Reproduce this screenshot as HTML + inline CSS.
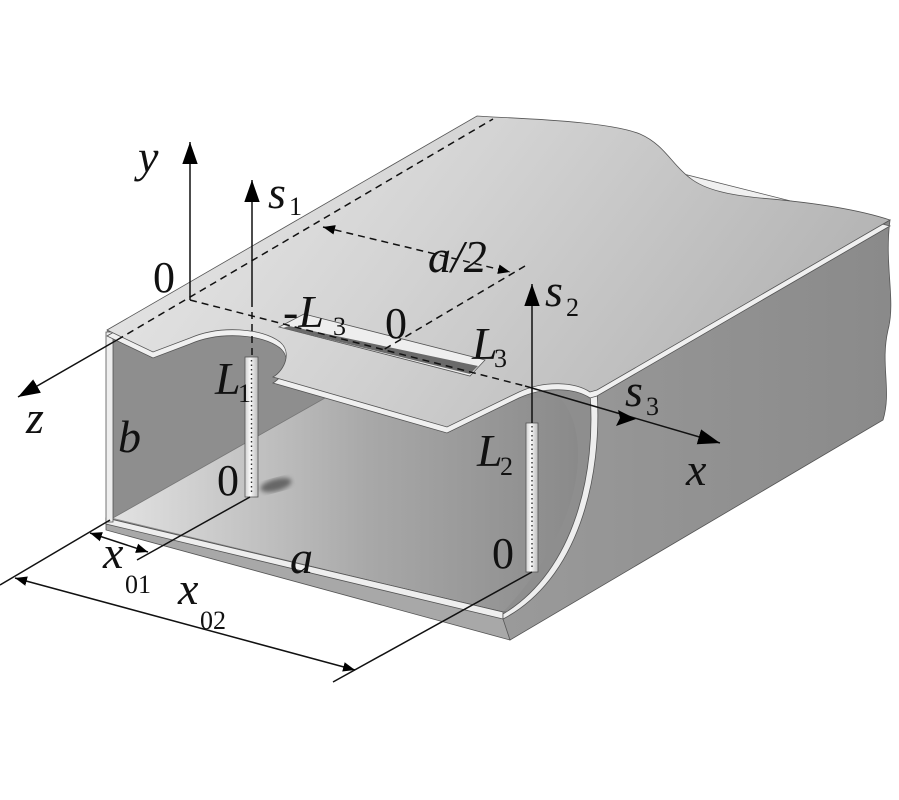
<!DOCTYPE html>
<html><head><meta charset="utf-8"><style>
html,body{margin:0;padding:0;background:#fff;width:899px;height:800px;overflow:hidden}
svg{display:block}
text{font-family:"Liberation Serif",serif;fill:#111}
.i{font-style:italic}
</style></head><body>
<svg width="899" height="800" viewBox="0 0 899 800" xmlns="http://www.w3.org/2000/svg">
<defs>
<linearGradient id="top" x1="0" y1="0" x2="1" y2="0.3">
<stop offset="0" stop-color="#ebebeb"/><stop offset="0.5" stop-color="#d2d2d2"/><stop offset="1" stop-color="#b5b5b5"/></linearGradient>
<linearGradient id="right" x1="0" y1="0" x2="1" y2="0">
<stop offset="0" stop-color="#9a9a9a"/><stop offset="1" stop-color="#8a8a8a"/></linearGradient>
<linearGradient id="floor" x1="0" y1="0" x2="1" y2="0">
<stop offset="0" stop-color="#e2e2e2"/><stop offset="0.55" stop-color="#a8a8a8"/><stop offset="1" stop-color="#8a8a8a"/></linearGradient>
<linearGradient id="probe" x1="0" y1="0" x2="1" y2="0">
<stop offset="0" stop-color="#cfcfcf"/><stop offset="0.4" stop-color="#fafafa"/><stop offset="1" stop-color="#bdbdbd"/></linearGradient>
<marker id="ah" viewBox="0 0 10 10" refX="10" refY="5" markerWidth="12" markerHeight="12" markerUnits="userSpaceOnUse" orient="auto-start-reverse">
<path d="M0,1 L10,5 L0,9 Z" fill="#000"/></marker>
<marker id="ahb" viewBox="0 0 10 10" refX="10" refY="5" markerWidth="22" markerHeight="22" markerUnits="userSpaceOnUse" orient="auto-start-reverse">
<path d="M0,1.5 L10,5 L0,8.5 Z" fill="#000"/></marker>
<filter id="blur"><feGaussianBlur stdDeviation="2.5"/></filter>
</defs>

<path d="M107,330 L320,330 L600,385 L590,395 C596,470 576,570 503,614 L106,522 Z" fill="#8e8e8e"/>
<path d="M113,518 L325,398 L560,398 C590,430 590,520 503,612 Z" fill="url(#floor)"/>
<path d="M113,345 L113,518 L325,398" fill="none" stroke="#777" stroke-width="0.8"/>
<ellipse cx="276" cy="485" rx="16" ry="6" fill="#666" filter="url(#blur)" transform="rotate(-15 276 485)"/>

<path d="M106,518 L503,612 L510,612 L510,640 L106,530 Z" fill="#a8a8a8" stroke="#555" stroke-width="0.8"/>
<path d="M106,518 L503,612 L503,619 L106,524 Z" fill="#eeeeee" stroke="#555" stroke-width="0.8"/>
<rect x="106" y="332" width="7" height="190" fill="#eeeeee" stroke="#555" stroke-width="0.8"/>

<path d="M597,390 L890,220 C884,265 896,300 888,330 C880,365 892,390 883,420 L510,640 L503,619 C575,580 602,480 597,390 Z" fill="url(#right)" stroke="#555" stroke-width="0.8"/>
<path d="M590,393 C596,470 576,570 503,614 L503,619 C578,580 603,478 597,390 Z" fill="#eeeeee" stroke="#555" stroke-width="0.8"/>

<rect x="245" y="357" width="13" height="140" fill="url(#probe)" stroke="#555" stroke-width="0.8"/>
<line x1="251.5" y1="360" x2="251.5" y2="495" stroke="#333" stroke-width="1.4" stroke-dasharray="1.5 3"/>
<rect x="526" y="423" width="12" height="149" fill="url(#probe)" stroke="#555" stroke-width="0.8"/>
<line x1="532" y1="426" x2="532" y2="570" stroke="#333" stroke-width="1.4" stroke-dasharray="1.5 3"/>

<path transform="translate(0,6)" d="M107,330 L477,116 L890,220 L597,390 L590,392 C575,382 545,380 519,392 L447,427 L273,377 C285,370 292,352 280,342 C262,328 220,325 190,338 L153,352 Z" fill="#f0f0f0" stroke="#555" stroke-width="0.8"/>
<path d="M107,330 L477,116 L493,117 C560,120 615,124 640,134 C665,145 672,165 690,178 C705,190 730,195 760,198 C820,203 860,210 890,220 L597,390 L590,392 C575,382 545,380 519,392 L447,427 L273,377 C285,370 292,352 280,342 C262,328 220,325 190,338 L153,352 Z" fill="url(#top)" stroke="#555" stroke-width="0.8"/>

<path d="M304,314 L485,360 L470,376 L279,327 Z" fill="#eeeeee" stroke="#555" stroke-width="0.8"/>
<path d="M289,326 L478,366 L470,374 L283,328 Z" fill="#6a6a6a"/>

<g stroke="#111" stroke-width="1.5" fill="none" stroke-dasharray="7 5">
<line x1="117" y1="340" x2="493" y2="119"/>
<line x1="190" y1="300" x2="525" y2="386"/>
<line x1="525" y1="266" x2="383" y2="350"/>
<line x1="323" y1="227" x2="510" y2="272" marker-start="url(#ah)" marker-end="url(#ah)"/>
<line x1="252" y1="300" x2="252" y2="357"/>
</g>

<g stroke="#111" stroke-width="1.5" fill="none">
<line x1="190" y1="300" x2="190" y2="142" marker-end="url(#ahb)"/>
<line x1="252" y1="300" x2="252" y2="180" marker-end="url(#ahb)"/>
<line x1="532" y1="423" x2="532" y2="284" marker-end="url(#ahb)"/>
<line x1="117" y1="340" x2="18" y2="397" marker-end="url(#ahb)"/>
<line x1="525" y1="386" x2="720" y2="443" marker-end="url(#ahb)"/>
<line x1="110" y1="520" x2="0" y2="585"/>
<line x1="250" y1="497" x2="137" y2="560"/>
<line x1="532" y1="572" x2="333" y2="682"/>
<line x1="90" y1="533" x2="148" y2="552" marker-start="url(#ah)" marker-end="url(#ah)"/>
<line x1="15" y1="578" x2="355" y2="670" marker-start="url(#ah)" marker-end="url(#ah)"/>
</g>
<path d="M636,419 L616,426 L620,418 L618,410 Z" fill="#000"/>

<g class="i" font-size="46">
<text x="138" y="172" class="i">y</text>
<text x="268" y="208" class="i">s</text>
<text x="428" y="272" class="i">a/2</text>
<text x="283" y="327" class="i">-L</text>
<text x="472" y="359" class="i">L</text>
<text x="545" y="306" class="i">s</text>
<text x="215" y="394" class="i">L</text>
<text x="118" y="452" class="i">b</text>
<text x="26" y="433" class="i">z</text>
<text x="625" y="406" class="i">s</text>
<text x="477" y="466" class="i">L</text>
<text x="686" y="485" class="i">x</text>
<text x="290" y="573" class="i">a</text>
<text x="103" y="568" class="i">x</text>
<text x="178" y="604" class="i">x</text>
</g>
<g font-size="26">
<text x="289" y="215">1</text>
<text x="333" y="335">3</text>
<text x="494" y="367">3</text>
<text x="566" y="316">2</text>
<text x="238" y="402">1</text>
<text x="646" y="415">3</text>
<text x="500" y="475">2</text>
<text x="125" y="593">01</text>
<text x="200" y="629">02</text>
</g>
<g font-size="44">
<text x="153" y="292">0</text>
<text x="385" y="338">0</text>
<text x="217" y="495">0</text>
<text x="492" y="568">0</text>
</g>
</svg>
</body></html>
